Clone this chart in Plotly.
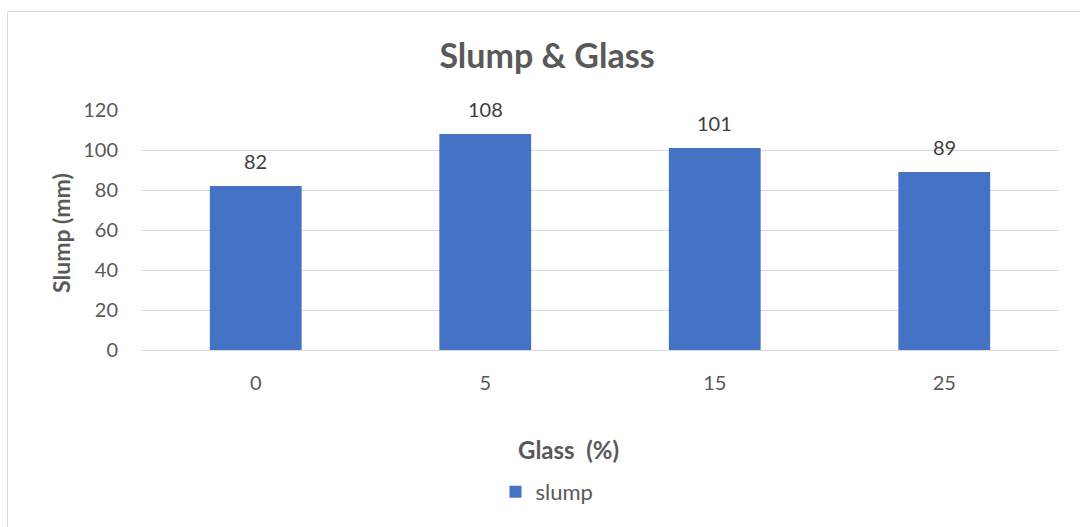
import plotly.graph_objects as go

# Chart data
glass_pct = ["0", "5", "15", "25"]
slump_mm = [82, 108, 101, 89]
y_ticks = [0, 20, 40, 60, 80, 100, 120]

W, H = 1080, 527
L, R, T, B = 141, 21, 110, 177
plot_w = W - L - R
plot_h = H - T - B


def px_x(px):
    return (px - L) / plot_w


def px_y(py):
    return (H - B - py) / plot_h


FONT = "Lato"
BAR_BLUE = "#4472C4"
GRID = "#d9d9d9"
TEXT = "#595959"

fig = go.Figure()
fig.add_trace(go.Bar(
    x=glass_pct,
    y=slump_mm,
    name="slump",
    marker=dict(color=BAR_BLUE, line=dict(width=0)),
    showlegend=True,
))

# Value labels above each bar (category index positions)
for i, val in enumerate(slump_mm):
    fig.add_annotation(
        x=i, y=val, text=str(val), showarrow=False,
        yanchor="bottom", yshift=11,
        font=dict(family=FONT, size=20, color="#404040"),
    )

# Axis titles
fig.add_annotation(
    xref="paper", yref="paper", x=px_x(568), y=px_y(449),
    xanchor="center", yanchor="middle",
    text="<b>Glass&nbsp;&nbsp;(%)</b>", showarrow=False,
    font=dict(family=FONT, size=24, color=TEXT),
)
fig.add_annotation(
    xref="paper", yref="paper", x=px_x(61), y=px_y(233),
    xanchor="center", yanchor="middle",
    text="<b>Slump (mm)</b>", showarrow=False, textangle=-90,
    font=dict(family=FONT, size=23, color=TEXT),
)

# Chart frame
fig.add_shape(
    type="rect", xref="paper", yref="paper",
    x0=px_x(7.5), x1=px_x(1095), y0=px_y(545), y1=px_y(11.5),
    line=dict(color=GRID, width=1), fillcolor="rgba(0,0,0,0)", layer="below",
)

fig.update_layout(
    width=W, height=H,
    margin=dict(l=L, r=R, t=T, b=B),
    paper_bgcolor="white", plot_bgcolor="white",
    title=dict(
        text="<b>Slump & Glass</b>", xref="container", x=547 / W, xanchor="center",
        yref="container", y=1 - 56 / H, yanchor="middle",
        font=dict(family=FONT, size=34, color=TEXT),
    ),
    bargap=0.6,
    font=dict(family=FONT, color=TEXT),
    xaxis=dict(
        type="category", range=[-0.5, 3.5],
        showgrid=False, showline=True, linecolor=GRID, linewidth=1,
        ticks="outside", ticklen=15, tickcolor="rgba(0,0,0,0)",
        tickfont=dict(family=FONT, size=20, color=TEXT),
    ),
    yaxis=dict(
        range=[0, 120], tickvals=y_ticks,
        showgrid=True, gridcolor=GRID, gridwidth=1,
        zeroline=False, showline=False,
        ticks="outside", ticklen=18, tickcolor="rgba(0,0,0,0)",
        tickfont=dict(family=FONT, size=20, color=TEXT),
    ),
    legend=dict(
        orientation="h", xanchor="center", x=px_x(547),
        yanchor="middle", y=px_y(492),
        font=dict(family=FONT, size=22, color=TEXT),
        itemwidth=30, traceorder="normal",
    ),
)

fig.write_html("out.html")
